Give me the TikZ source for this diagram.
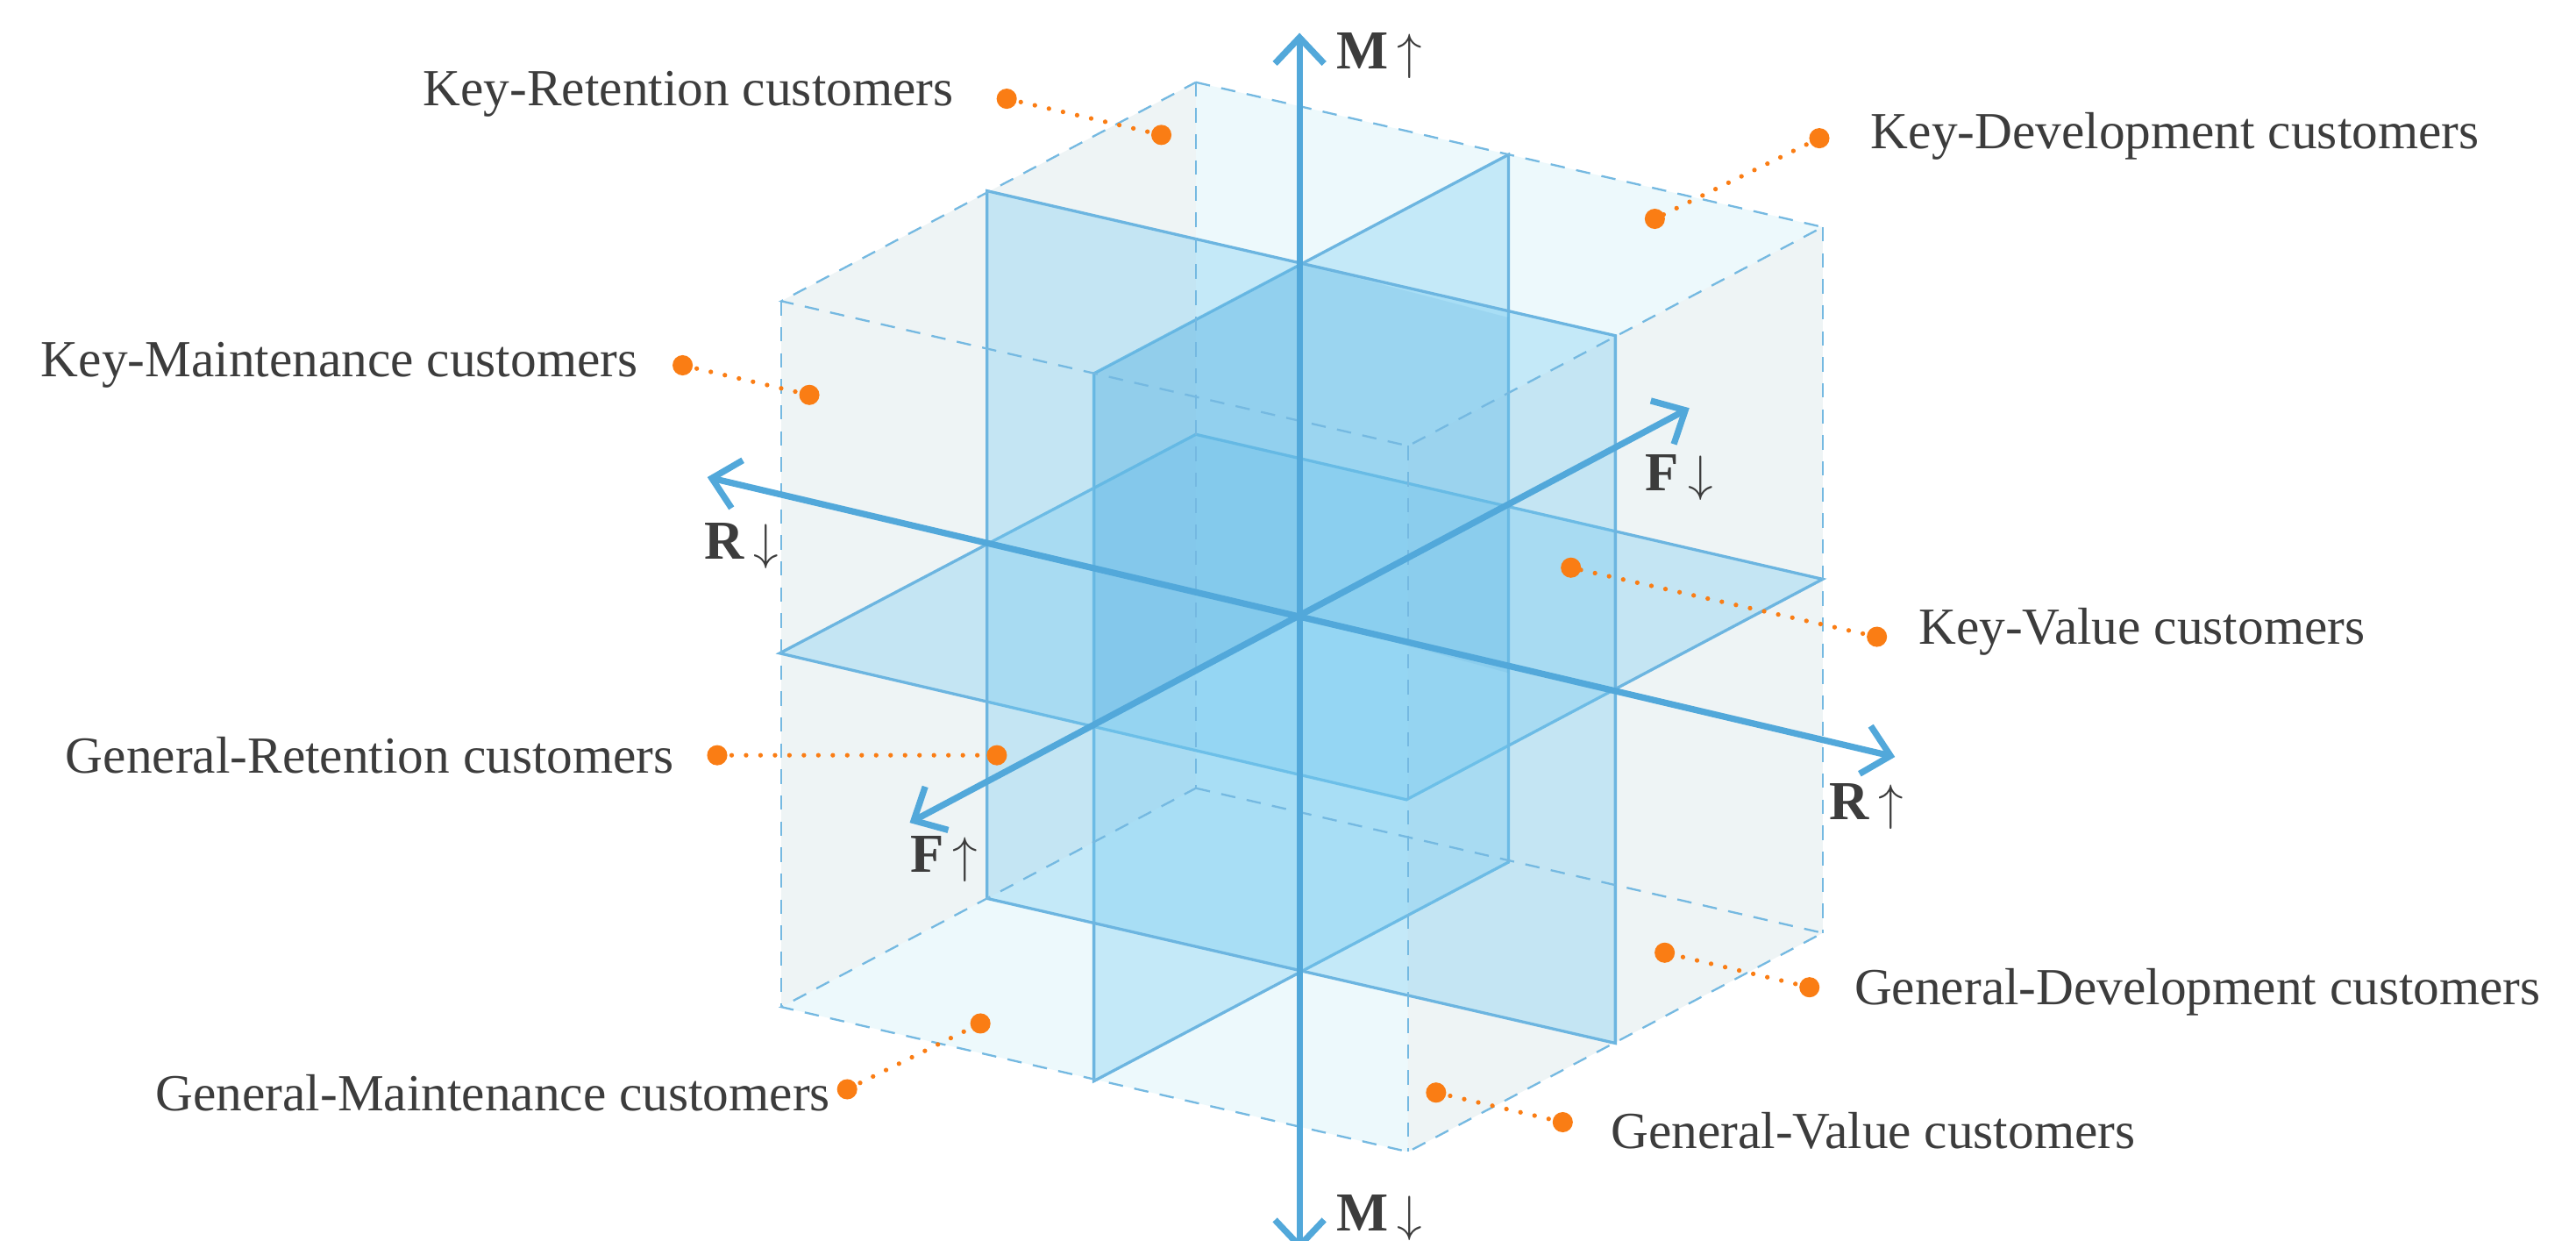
\documentclass[tikz,border=0pt]{standalone}
\usepackage{fontspec}
\setmainfont{Liberation Serif}
\usetikzlibrary{arrows.meta}
\definecolor{ax}{RGB}{82,168,218}
\definecolor{pl}{RGB}{110,200,240}
\definecolor{cb}{RGB}{225,245,250}
\definecolor{or}{RGB}{250,125,20}
\definecolor{tx}{RGB}{60,60,60}
\begin{document}
\begin{tikzpicture}[x=0.02cm,y=-0.02cm,
  lab/.style={font=\fontsize{18}{20}\selectfont,text=tx,inner sep=0pt},
  axl/.style={font=\fontsize{19}{20}\selectfont\bfseries,text=tx,inner sep=0pt},
  axis/.style={ax,line width=2.2pt,{Straight Barb[length=9pt,width=17pt,line width=2.2pt]}-{Straight Barb[length=9pt,width=17pt,line width=2.2pt]}},
  edge/.style={ax!80,dashed,line width=0.7pt,dash pattern=on 5pt off 4pt},
  plane/.style={fill=pl,fill opacity=0.32,draw=ax!85,line width=1pt,draw opacity=1},
  lead/.style={or,line width=1.6pt,dash pattern=on 0pt off 5pt,line cap=round},
  dot/.style={circle,fill=or,inner sep=0pt,minimum size=7pt}]
\useasboundingbox (0,0) rectangle (1566,754);
% cube
\coordinate (A) at (727,50); \coordinate (B) at (1108,138);
\coordinate (C) at (856,271); \coordinate (D) at (475,183);
\coordinate (A2) at (727,479); \coordinate (B2) at (1108,567);
\coordinate (C2) at (856,700); \coordinate (D2) at (475,612);
\fill[cb!60] (A)--(B)--(B2)--(C2)--(D2)--(D)--cycle;
\fill[black!6,opacity=0.5] (A)--(D)--(D2)--(A2)--cycle;
\fill[black!6,opacity=0.5] (B)--(C)--(C2)--(B2)--cycle;
% planes
\filldraw[plane] (727,264)--(1108,352)--(855,486)--(474,397)--cycle;
\filldraw[plane] (917,94)--(665,227)--(665,657)--(917,524)--cycle;
\filldraw[plane] (600,116)--(982,204)--(982,634)--(600,546)--cycle;
\fill[ax,opacity=0.25] (665,227)--(791,160)--(791,375)--(665,442)--cycle;
\fill[ax,opacity=0.15] (791,160)--(917,193)--(917,409)--(791,375)--cycle;
% cube edges
\draw[edge] (A)--(B)--(C)--(D)--cycle;
\draw[edge] (A2)--(B2)--(C2)--(D2)--cycle;
\draw[edge] (A)--(A2) (B)--(B2) (C)--(C2) (D)--(D2);
% axes
\coordinate (Mt) at (790,20); \coordinate (Mb) at (790,760);
\coordinate (Rl) at (430,290); \coordinate (Rr) at (1152,460);
\coordinate (Fl) at (553,500); \coordinate (Fr) at (1027,248);
\draw[axis] (Mb)--(Mt);
\draw[axis] (Rl)--(Rr);
\draw[axis] (Fl)--(Fr);
\node[axl,anchor=west] (m1) at (812,34) {M\,$\uparrow$};
\node[axl,anchor=west] (m2) at (812,740) {M\,$\downarrow$};
\node[axl,anchor=west] (r1) at (428,332) {R\,$\downarrow$};
\node[axl,anchor=west] (f1) at (1000,290) {F\,$\downarrow$};
\node[axl,anchor=west] (r2) at (1112,490) {R\,$\uparrow$};
\node[axl,anchor=west] (f2) at (553,522) {F\,$\uparrow$};
% labels + leaders
\newcommand{\leader}[2]{\draw[lead] (#1)--(#2); \node[dot] at (#1) {}; \node[dot] at (#2) {};}
\node[lab,anchor=east] (t1) at (580,57) {Key-Retention customers};
\coordinate (a1) at (612,60); \coordinate (b1) at (706,82); \leader{a1}{b1}
\node[lab,anchor=west] (t2) at (1137,83) {Key-Development customers};
\coordinate (a2) at (1106,84); \coordinate (b2) at (1006,133); \leader{a2}{b2}
\node[lab,anchor=east] (t3) at (388,222) {Key-Maintenance customers};
\coordinate (a3) at (415,222); \coordinate (b3) at (492,240); \leader{a3}{b3}
\node[lab,anchor=west] (t4) at (1166,384) {Key-Value customers};
\coordinate (a4) at (1141,387); \coordinate (b4) at (955,345); \leader{a4}{b4}
\node[lab,anchor=east] (t5) at (410,459) {General-Retention customers};
\coordinate (a5) at (436,459); \coordinate (b5) at (606,459); \leader{a5}{b5}
\node[lab,anchor=west] (t6) at (1127,603) {General-Development customers};
\coordinate (a6) at (1100,600); \coordinate (b6) at (1012,579); \leader{a6}{b6}
\node[lab,anchor=east] (t7) at (505,664) {General-Maintenance customers};
\coordinate (a7) at (515,662); \coordinate (b7) at (596,622); \leader{a7}{b7}
\node[lab,anchor=west] (t8) at (979,687) {General-Value customers};
\coordinate (a8) at (950,682); \coordinate (b8) at (873,664); \leader{a8}{b8}
\end{tikzpicture}
\end{document}
